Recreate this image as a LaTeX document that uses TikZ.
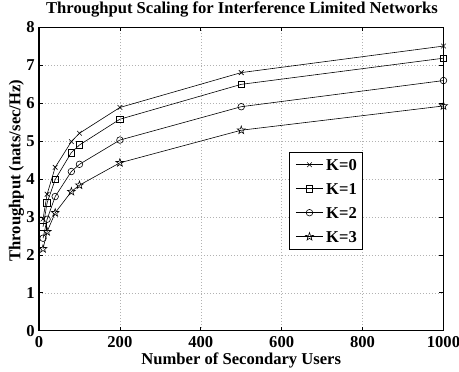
\documentclass[tikz,border=0pt]{standalone}
\usepackage{fontspec}
\setmainfont{Liberation Serif}
\usetikzlibrary{plotmarks}

% five pointed star marker
\pgfdeclareplotmark{pentagram}{%
  \pgfpathmoveto{\pgfpointpolar{90}{1.25\pgfplotmarksize}}%
  \pgfpathlineto{\pgfpointpolar{126}{0.5\pgfplotmarksize}}%
  \pgfpathlineto{\pgfpointpolar{162}{1.25\pgfplotmarksize}}%
  \pgfpathlineto{\pgfpointpolar{198}{0.5\pgfplotmarksize}}%
  \pgfpathlineto{\pgfpointpolar{234}{1.25\pgfplotmarksize}}%
  \pgfpathlineto{\pgfpointpolar{270}{0.5\pgfplotmarksize}}%
  \pgfpathlineto{\pgfpointpolar{306}{1.25\pgfplotmarksize}}%
  \pgfpathlineto{\pgfpointpolar{342}{0.5\pgfplotmarksize}}%
  \pgfpathlineto{\pgfpointpolar{18}{1.25\pgfplotmarksize}}%
  \pgfpathlineto{\pgfpointpolar{54}{0.5\pgfplotmarksize}}%
  \pgfpathclose\pgfusepathqstroke}

\begin{document}
\begin{tikzpicture}[x=0.4045pt, y=37.9pt,
    every node/.style={font=\bfseries\fontsize{16.6}{18}\selectfont, inner sep=0pt},
    curve/.style={line width=0.6pt, mark size=3.3pt, mark options={solid, line width=0.6pt}},
    gridline/.style={gray!60, line width=0.5pt, dash pattern=on 0.7pt off 2.3pt}]
    \useasboundingbox (-39pt,-41.3pt) rectangle ++(459pt,372pt);

    % grid
    \foreach \x in {200,400,...,800}
        \draw[gridline] (\x,0) -- (\x,8);
    \foreach \y in {1,...,7}
        \draw[gridline] (0,\y) -- (1000,\y);

    % ticks and labels
    \foreach \x in {0,200,...,1000} {
        \draw[line width=0.6pt] (\x,0) -- ++(0,4pt) (\x,8) -- ++(0,-4pt);
        \node[anchor=north] (xlab\x) at (\x,-6pt) {\x};
    }
    \foreach \y in {0,...,8} {
        \draw[line width=0.6pt] (0,\y) -- ++(4pt,0) (1000,\y) -- ++(-4pt,0);
        \node[anchor=east] (ylab\y) at (-4pt,\y) {\y};
    }
    \draw[line width=1.2pt] (0,0) rectangle (1000,8);

    % data
    \draw[curve] plot[mark=x] coordinates {(10,2.95) (20,3.6) (40,4.31) (80,4.99) (100,5.21) (200,5.89) (500,6.81) (1000,7.51)};
    \draw[curve] plot[mark=square] coordinates {(10,2.74) (20,3.37) (40,3.99) (80,4.7) (100,4.9) (200,5.58) (500,6.5) (1000,7.19)};
    \draw[curve] plot[mark=o] coordinates {(10,2.44) (20,2.94) (40,3.54) (80,4.2) (100,4.39) (200,5.03) (500,5.91) (1000,6.6)};
    \draw[curve] plot[mark=pentagram] coordinates {(10,2.16) (20,2.61) (40,3.11) (80,3.67) (100,3.84) (200,4.43) (500,5.29) (1000,5.93)};

    % legend
    \draw[line width=1pt, fill=white] (251pt,81.4pt) rectangle (323pt,178.4pt);
    \foreach \k/\m [count=\i] in {0/x,1/square,2/o,3/pentagram} {
        \draw[curve, mark=\m, mark indices={2}] plot coordinates {(257pt,190pt-\i*24pt) (270.5pt,190pt-\i*24pt) (284pt,190pt-\i*24pt)};
        \node[anchor=west] (key\k) at (287pt,190pt-\i*24pt) {K=\k};
    }

    % titles
    \node[anchor=base] (title) at (502,317pt) {Throughput Scaling for Interference Limited Networks};
    \node[anchor=base] (xtitle) at (500,-34pt) {Number of Secondary Users};
    \node[rotate=90] (ytitle) at (-22.5pt,160pt) {Throughput (nats/sec/Hz)};
\end{tikzpicture}
\end{document}
